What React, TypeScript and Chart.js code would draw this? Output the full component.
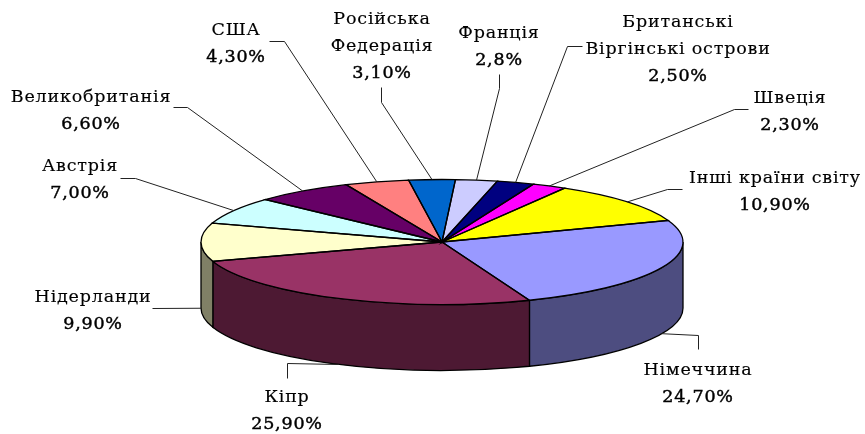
import React, { useEffect, useRef } from "react";
import { Chart, registerables } from "chart.js";

Chart.register(...registerables);

const categories = ["Німеччина", "Кіпр", "Нідерланди", "Австрія", "Великобританія", "США", "Російська Федерація", "Франція", "Британські Віргінські острови", "Швеція", "Інші країни світу"];
const shares = [24.7, 25.9, 9.9, 7.0, 6.6, 4.3, 3.1, 2.8, 2.5, 2.3, 10.9];
const topColors = ["#9999FF", "#993366", "#FFFFCC", "#CCFFFF", "#660066", "#FF8080", "#0066CC", "#CCCCFF", "#000080", "#FF00FF", "#FFFF00"];
const sideColors = ["#4D4D80", "#4D1933", "#808066", "#668080", "#330033", "#804040", "#003366", "#666680", "#000040", "#800080", "#808000"];
const labelLines = [
  ["Німеччина", "24,70%"],
  ["Кіпр", "25,90%"],
  ["Нідерланди", "9,90%"],
  ["Австрія", "7,00%"],
  ["Великобританія", "6,60%"],
  ["США", "4,30%"],
  ["Російська", "Федерація", "3,10%"],
  ["Франція", "2,8%"],
  ["Британські", "Віргінські острови", "2,50%"],
  ["Швеція", "2,30%"],
  ["Інші країни світу", "10,90%"],
];

// Layout only: label centre x, first line centre y, leader start and elbow.
const labelLayout = [
  { x: 698, y: 370, from: [698, 349], elbow: [698, 335] },
  { x: 287, y: 397, from: [287, 378], elbow: [287, 363] },
  { x: 93, y: 297, from: [152, 308], elbow: null },
  { x: 80, y: 166, from: [120, 178], elbow: [135, 178] },
  { x: 91, y: 97, from: [173, 107], elbow: [187, 107] },
  { x: 236, y: 30, from: [269, 41], elbow: [284, 41] },
  { x: 382, y: 19, from: [381, 87], elbow: [381, 102] },
  { x: 499, y: 33, from: [499, 74], elbow: [499, 88] },
  { x: 678, y: 22, from: [582, 46], elbow: [567, 46] },
  { x: 790, y: 98, from: [748, 109], elbow: [734, 109] },
  { x: 775, y: 178, from: [682, 189], elbow: [667, 189] },
];

const RADIUS = 241;
const RY = 62.5;
const CY = 242;
const DEPTH = 66;
const LINE_GAP = 27;
const FONT = "17.5px 'DejaVu Serif'";

const pie3d = {
  id: "pie3d",
  beforeDatasetsDraw(chart: any) {
    const ctx = chart.ctx;
    const arcs = chart.getDatasetMeta(0).data;
    ctx.save();
    ctx.lineWidth = 1.3;
    ctx.strokeStyle = "#000";
    arcs.forEach((arc: any, i: number) => {
      const TAU = Math.PI * 2;
      for (const shift of [0, TAU, -TAU]) {
        const a = Math.max(arc.startAngle + shift, 0);
        const b = Math.min(arc.endAngle + shift, Math.PI);
        if (b <= a) continue;
        ctx.beginPath();
        ctx.ellipse(arc.x, CY, RADIUS, RY, 0, a, b);
        ctx.ellipse(arc.x, CY + DEPTH, RADIUS, RY, 0, b, a, true);
        ctx.closePath();
        ctx.fillStyle = sideColors[i];
        ctx.fill();
        ctx.stroke();
      }
    });
    ctx.restore();
    ctx.save();
    const cyChart = arcs[0].y;
    ctx.translate(0, CY);
    ctx.scale(1, RY / RADIUS);
    ctx.translate(0, -cyChart);
  },
  afterDatasetsDraw(chart: any) {
    const ctx = chart.ctx;
    ctx.restore();
    const arcs = chart.getDatasetMeta(0).data;
    ctx.save();
    ctx.lineWidth = 1.3;
    ctx.strokeStyle = "#000";
    arcs.forEach((arc: any) => {
      ctx.beginPath();
      ctx.moveTo(arc.x, CY);
      ctx.ellipse(arc.x, CY, RADIUS, RY, 0, arc.startAngle, arc.endAngle);
      ctx.closePath();
      ctx.stroke();
    });
    ctx.restore();
  },
  afterDraw(chart: any) {
    const ctx = chart.ctx;
    const arcs = chart.getDatasetMeta(0).data;
    ctx.save();
    ctx.font = FONT;
    (ctx as any).letterSpacing = "0.8px";
    ctx.fillStyle = "#000";
    ctx.textAlign = "center";
    ctx.textBaseline = "middle";
    arcs.forEach((arc: any, i: number) => {
      const mid = (arc.startAngle + arc.endAngle) / 2;
      const s = Math.sin(mid);
      const endX = arc.x + RADIUS * Math.cos(mid);
      const endY = CY + RY * s + (s > -0.05 ? DEPTH : 0);
      const l = labelLayout[i];
      ctx.beginPath();
      ctx.strokeStyle = "#222";
      ctx.lineWidth = 1;
      ctx.moveTo(l.from[0] + 0.5, l.from[1] + 0.5);
      if (l.elbow) ctx.lineTo(l.elbow[0] + 0.5, l.elbow[1] + 0.5);
      ctx.lineTo(endX, endY);
      ctx.stroke();
      labelLines[i].forEach((t, k) => {
        const isValue = k === labelLines[i].length - 1;
        ctx.fillText(t, l.x, l.y + k * LINE_GAP);
        ctx.lineWidth = isValue ? 0.45 : 0.15;
        ctx.strokeStyle = "#000";
        ctx.strokeText(t, l.x, l.y + k * LINE_GAP);
      });
    });
    ctx.restore();
  },
};

export default function App() {
  const ref = useRef<HTMLCanvasElement | null>(null);
  useEffect(() => {
    const chart = new Chart(ref.current as HTMLCanvasElement, {
      type: "pie",
      data: {
        labels: categories,
        datasets: [{ data: shares, backgroundColor: topColors, borderWidth: 0, clip: false } as any],
      },
      options: {
        responsive: false,
        animation: false,
        rotation: 69.8,
        radius: RADIUS,
        layout: { padding: { left: 19 } },
        plugins: { legend: { display: false }, tooltip: { enabled: false } },
      } as any,
      plugins: [pie3d],
    });
    return () => chart.destroy();
  }, []);
  return (
    <canvas
      ref={ref}
      width={865}
      height={434}
      style={{ position: "absolute", left: 0, top: 0, background: "#fff" }}
    />
  );
}
